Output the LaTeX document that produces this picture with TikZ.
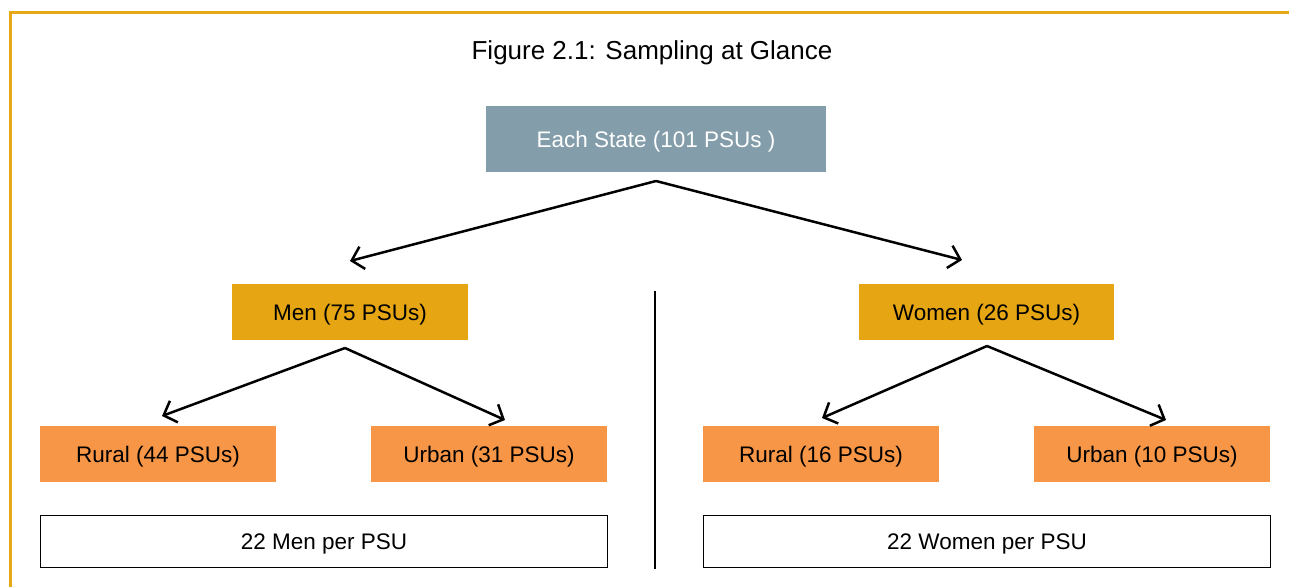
\documentclass[tikz,border=0pt]{standalone}
\usepackage{fontspec}
\setmainfont{Liberation Sans}
\usetikzlibrary{arrows.meta}
\definecolor{frameor}{HTML}{E6A817}
\definecolor{stateblue}{HTML}{849DAA}
\definecolor{gold}{HTML}{E6A614}
\definecolor{lightor}{HTML}{F79646}
\tikzset{
  box/.style={rectangle, inner sep=0pt, text height=16pt, text depth=0pt, font=\fontsize{22.5}{27}\selectfont},
  statebox/.style={box, fill=stateblue, text=white, minimum width=340pt, minimum height=66pt},
  sexbox/.style={box, fill=gold, text=black, minimum height=56pt},
  areabox/.style={box, fill=lightor, text=black, minimum width=236pt, minimum height=56pt},
  perbox/.style={box, draw=black, line width=1.5pt, fill=white, minimum width=567pt, minimum height=52pt},
  conn/.style={line width=2.5pt, -{Straight Barb[length=11pt,width=23pt,line width=2.5pt]}},
}
\begin{document}
\begin{tikzpicture}[x=1pt,y=-1pt]
\useasboundingbox (0,0) rectangle (1289,587);
\fill[white] (0,0) rectangle (1289,587);
% frame
\draw[frameor, line width=3pt] (10,587) -- (10,12) -- (1289,12);
% title
\node[inner sep=0pt, text height=19pt, text depth=0pt, font=\fontsize{26}{30}\selectfont] (title) at (652,50) {Figure 2.1: Sampling at Glance};
% boxes
\node[statebox] (state) at (656,139) {Each State (101 PSUs )};
\node[sexbox, minimum width=236pt] (men) at (350,312) {Men (75 PSUs)};
\node[sexbox, minimum width=255pt] (women) at (986.5,312) {Women (26 PSUs)};
\node[areabox] (rural1) at (158,454) {Rural (44 PSUs)};
\node[areabox] (urban1) at (489,454) {Urban (31 PSUs)};
\node[areabox] (rural2) at (821,454) {Rural (16 PSUs)};
\node[areabox] (urban2) at (1152,454) {Urban (10 PSUs)};
\node[perbox] (perm) at (324,541.5) {22 Men per PSU};
\node[perbox] (perw) at (987,541.5) {22 Women per PSU};
% divider
\coordinate (dtop) at (655,291);
\coordinate (dbot) at (655,569);
\draw[line width=1.3pt] (dtop) -- (dbot);
% connector points
\coordinate (a0) at (656,181);
\coordinate (m0) at (345,348);
\coordinate (a2) at (987,346);
\coordinate (t1) at (350,261);
\coordinate (t2) at (962,260);
\coordinate (t3) at (162,416);
\coordinate (t4) at (505,420);
\coordinate (t5) at (822,418);
\coordinate (t6) at (1166,420);
\draw[conn] (a0) -- (t1);
\draw[conn] (a0) -- (t2);
\draw[conn] (m0) -- (t3);
\draw[conn] (m0) -- (t4);
\draw[conn] (a2) -- (t5);
\draw[conn] (a2) -- (t6);
\end{tikzpicture}
\end{document}
